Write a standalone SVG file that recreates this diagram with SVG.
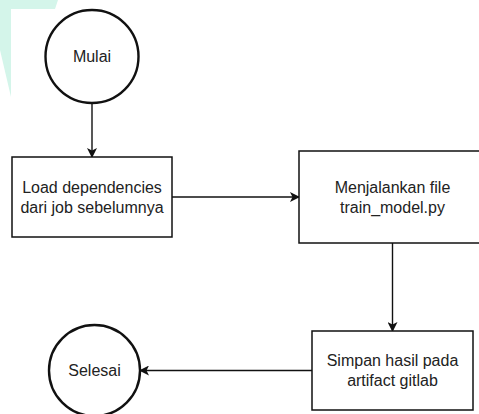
<svg xmlns="http://www.w3.org/2000/svg" width="479" height="414" viewBox="0 0 479 414">
  <style>
    .bg { fill: #ffffff; }
    .deco { fill: #d4f5ea; }
    .term { fill: #ffffff; stroke: #111111; stroke-width: 2.4; }
    .proc { fill: #ffffff; stroke: #111111; stroke-width: 1.5; }
    .label { font-family: "Liberation Sans", Arial, Helvetica, sans-serif; font-size: 16px; fill: #222222; text-anchor: middle; }
    .edge { fill: none; stroke: #111111; stroke-width: 1.4; }
  </style>
  <defs>
    <marker id="arrow" viewBox="0 0 10 10" refX="9" refY="5" markerWidth="10" markerHeight="10" markerUnits="userSpaceOnUse" orient="auto">
      <path d="M0,0 L10,5 L0,10 L2.5,5 Z" fill="#111111"/>
    </marker>
  </defs>

  <rect class="bg" x="0" y="0" width="479" height="414"/>

  <!-- light decorative shape at the corner -->
  <polygon class="deco" points="0,0 58,0 55,9 11,9 11,97 0,50"/>

  <!-- connectors -->
  <g id="connectors">
    <line class="edge" x1="92" y1="103" x2="92" y2="157" marker-end="url(#arrow)"/>
    <line class="edge" x1="172" y1="197" x2="299" y2="197" marker-end="url(#arrow)"/>
    <line class="edge" x1="392.5" y1="243" x2="392.5" y2="331" marker-end="url(#arrow)"/>
    <line class="edge" x1="312" y1="370.5" x2="140" y2="370.5" marker-end="url(#arrow)"/>
  </g>

  <g id="mulai">
    <circle class="term" cx="92" cy="56.5" r="46.5"/>
    <text class="label" x="92" y="62">Mulai</text>
  </g>

  <g id="load-dependencies">
    <rect class="proc" x="12" y="157" width="160" height="80"/>
    <text class="label" x="92" y="193">Load dependencies</text>
    <text class="label" x="92" y="212.5">dari job sebelumnya</text>
  </g>

  <g id="menjalankan-file">
    <rect class="proc" x="299" y="151" width="187" height="92"/>
    <text class="label" x="392.5" y="193">Menjalankan file</text>
    <text class="label" x="392.5" y="212.5">train_model.py</text>
  </g>

  <g id="simpan-hasil">
    <rect class="proc" x="312" y="331" width="161" height="79"/>
    <text class="label" x="392.5" y="366">Simpan hasil pada</text>
    <text class="label" x="392.5" y="386">artifact gitlab</text>
  </g>

  <g id="selesai">
    <circle class="term" cx="94.5" cy="370.5" r="45.5"/>
    <text class="label" x="94.5" y="376">Selesai</text>
  </g>
</svg>
